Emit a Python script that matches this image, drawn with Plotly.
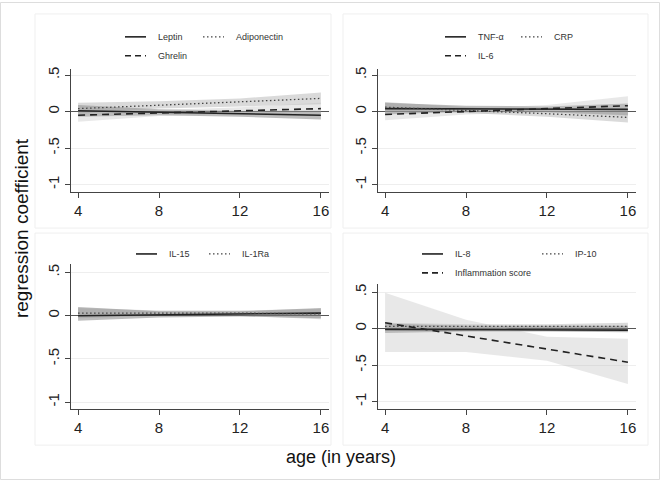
import plotly.graph_objects as go

W, H = 660, 480

# ---------------- data ----------------
ages = [4, 8, 12, 16]
age_ticks = [4, 8, 12, 16]
y_ticks = [0.5, 0, -0.5, -1]
y_tick_labels = [".5", "0", "-.5", "-1"]

# panel 1 (hormones)
leptin = [0.01, -0.01, -0.03, -0.05]
leptin_lo = [-0.07, -0.05, -0.07, -0.11]
leptin_hi = [0.09, 0.03, 0.01, 0.01]
adipo = [0.04, 0.09, 0.13, 0.18]
adipo_lo = [-0.03, 0.04, 0.07, 0.10]
adipo_hi = [0.12, 0.14, 0.18, 0.26]
ghrelin = [-0.05, -0.02, 0.01, 0.04]
ghrelin_lo = [-0.14, -0.06, -0.04, -0.04]
ghrelin_hi = [0.04, 0.02, 0.06, 0.12]

# panel 2
tnf = [0.04, 0.04, 0.03, 0.03]
tnf_lo = [-0.04, 0.00, -0.01, -0.05]
tnf_hi = [0.12, 0.08, 0.07, 0.11]
crp = [0.06, 0.02, -0.03, -0.08]
crp_lo = [-0.01, -0.02, -0.07, -0.15]
crp_hi = [0.13, 0.06, 0.01, -0.01]
il6 = [-0.04, 0.00, 0.04, 0.08]
il6_lo = [-0.12, -0.04, -0.01, -0.06]
il6_hi = [0.04, 0.04, 0.09, 0.21]

# panel 3
il15 = [0.00, 0.01, 0.02, 0.03]
il15_lo = [-0.06, -0.02, -0.01, -0.03]
il15_hi = [0.10, 0.05, 0.05, 0.09]
il1ra = [0.03, 0.03, 0.03, 0.02]
il1ra_lo = [-0.03, 0.00, 0.00, -0.04]
il1ra_hi = [0.09, 0.06, 0.06, 0.08]

# panel 4
il8 = [-0.01, -0.01, -0.01, -0.02]
il8_lo = [-0.06, -0.04, -0.04, -0.05]
il8_hi = [0.07, 0.04, 0.04, 0.04]
ip10 = [0.03, 0.03, 0.03, 0.03]
ip10_lo = [-0.02, 0.00, 0.00, -0.01]
ip10_hi = [0.08, 0.06, 0.06, 0.08]
infl = [0.08, -0.10, -0.28, -0.46]
infl_lo = [-0.32, -0.32, -0.44, -0.76]
infl_hi = [0.49, 0.12, -0.11, -0.14]

# ---------------- styles ----------------
FONT = "Arial, Liberation Sans, sans-serif"
BAND = ["rgba(90,90,90,0.40)", "rgba(150,150,150,0.35)", "rgba(185,185,185,0.32)"]
LINE_STYLE = [("solid", 1.6, "#222222"), ("1.5px,2.5px", 1.3, "#444444"), ("7px,5px", 1.6, "#222222")]
KEY_DASH = ["solid", "1.5px,2.5px", "6px,4px"]


def px(x):
    return x / W


def py(y):
    return 1 - y / H


panels = [
    dict(
        name="TL", xax="x", yax="y", xd=(71, 329), yd=(67, 191), box=(35, 12, 331, 227),
        series=[("Leptin", leptin, leptin_lo, leptin_hi),
                ("Adiponectin", adipo, adipo_lo, adipo_hi),
                ("Ghrelin", ghrelin, ghrelin_lo, ghrelin_hi)],
        zero=110, unit=73.3,
        legend=[(125, 35), (203, 35), (125, 54)],
    ),
    dict(
        name="TR", xax="x2", yax="y2", xd=(378, 636), yd=(67, 191), box=(343, 12, 648, 227),
        series=[("TNF-α", tnf, tnf_lo, tnf_hi),
                ("CRP", crp, crp_lo, crp_hi),
                ("IL-6", il6, il6_lo, il6_hi)],
        zero=110, unit=73.3,
        legend=[(445, 35), (521, 35), (445, 54)],
    ),
    dict(
        name="BL", xax="x3", yax="y3", xd=(71, 329), yd=(263, 409), box=(35, 232, 331, 445),
        series=[("IL-15", il15, il15_lo, il15_hi),
                ("IL-1Ra", il1ra, il1ra_lo, il1ra_hi)],
        zero=315, unit=86.7,
        legend=[(136, 253), (209, 253)],
    ),
    dict(
        name="BR", xax="x4", yax="y4", xd=(378, 636), yd=(283, 409), box=(343, 232, 648, 445),
        series=[("IL-8", il8, il8_lo, il8_hi),
                ("IP-10", ip10, ip10_lo, ip10_hi),
                ("Inflammation score", infl, infl_lo, infl_hi)],
        zero=328, unit=73.3,
        legend=[(422, 253), (542, 253), (422, 272)],
    ),
]

fig = go.Figure()
shapes = []
annotations = []

# outer border
shapes.append(dict(type="rect", xref="paper", yref="paper", x0=px(0.5), y0=py(479.5), x1=px(659.5), y1=py(0.5),
                   line=dict(color="#dddddd", width=1), fillcolor="rgba(0,0,0,0)", layer="below"))

for i, p in enumerate(panels):
    bx0, by0, bx1, by1 = p["box"]
    shapes.append(dict(type="rect", xref="paper", yref="paper", x0=px(bx0), y0=py(by1), x1=px(bx1), y1=py(by0),
                       line=dict(color="#efefef", width=1), fillcolor="white", layer="below"))
    for j, (nm, m, lo, hi) in enumerate(p["series"]):
        fig.add_trace(go.Scatter(x=ages, y=lo, mode="lines", line=dict(width=0), hoverinfo="skip",
                                 showlegend=False, xaxis=p["xax"], yaxis=p["yax"]))
        fig.add_trace(go.Scatter(x=ages, y=hi, mode="lines", line=dict(width=0), fill="tonexty",
                                 fillcolor=BAND[j], hoverinfo="skip", showlegend=False,
                                 xaxis=p["xax"], yaxis=p["yax"]))
    for j, (nm, m, lo, hi) in enumerate(p["series"]):
        dash, w, col = LINE_STYLE[j]
        fig.add_trace(go.Scatter(x=ages, y=m, mode="lines", name=nm,
                                 line=dict(color=col, width=w, dash=dash),
                                 showlegend=False, xaxis=p["xax"], yaxis=p["yax"]))
        lx, ly = p["legend"][j]
        shapes.append(dict(type="line", xref="paper", yref="paper", x0=px(lx), x1=px(lx + 21),
                           y0=py(ly), y1=py(ly), line=dict(color=col, width=w, dash=KEY_DASH[j])))
        annotations.append(dict(text=nm, xref="paper", yref="paper", x=px(lx + 31), y=py(ly),
                                xanchor="left", yanchor="middle", showarrow=False,
                                font=dict(family=FONT, size=9, color="#333333")))

    yt, yb = p["yd"]
    y_top = (p["zero"] - yt) / p["unit"]
    y_bot = (p["zero"] - yb) / p["unit"]
    xk = "xaxis" if i == 0 else f"xaxis{i+1}"
    yk = "yaxis" if i == 0 else f"yaxis{i+1}"
    fig.update_layout(**{
        xk: dict(domain=[px(p["xd"][0]), px(p["xd"][1])], range=[3.65, 16.4], anchor=p["yax"],
                 tickvals=age_ticks, ticks="outside", ticklen=5, tickcolor="#444",
                 showline=True, linecolor="#444", linewidth=1, showgrid=False, zeroline=False,
                 tickfont=dict(family=FONT, size=15, color="#222")),
        yk: dict(domain=[py(yb), py(yt)], range=[y_bot, y_top], anchor=p["xax"],
                 tickvals=y_ticks, ticktext=y_tick_labels, tickangle=-90,
                 ticks="outside", ticklen=5, tickcolor="#444",
                 showline=True, linecolor="#444", linewidth=1,
                 showgrid=True, gridcolor="#eeeeee", gridwidth=1,
                 zeroline=True, zerolinecolor="#555555", zerolinewidth=1,
                 tickfont=dict(family=FONT, size=15, color="#222")),
    })

annotations.append(dict(text="age (in years)", xref="paper", yref="paper", x=px(341), y=py(457),
                        xanchor="center", yanchor="middle", showarrow=False,
                        font=dict(family=FONT, size=18, color="#111")))
annotations.append(dict(text="regression coefficient", xref="paper", yref="paper", x=px(21), y=py(227),
                        xanchor="center", yanchor="middle", showarrow=False, textangle=-90,
                        font=dict(family=FONT, size=19, color="#111")))

fig.update_layout(width=W, height=H, margin=dict(l=0, r=0, t=0, b=0),
                  paper_bgcolor="white", plot_bgcolor="rgba(0,0,0,0)",
                  shapes=shapes, annotations=annotations, showlegend=False)

fig.write_html("out.html", config={"displayModeBar": False},
               post_script="document.body.style.margin='0';document.body.style.padding='0';")
